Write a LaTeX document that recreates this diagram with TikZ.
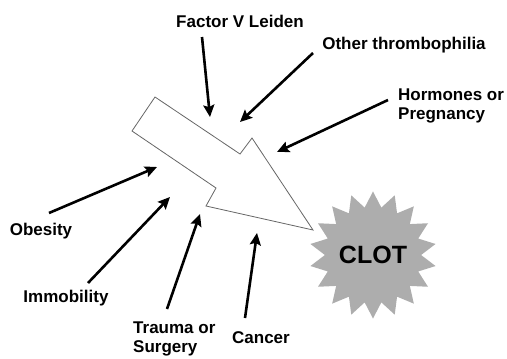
\documentclass[tikz,border=0pt]{standalone}
\usepackage{fontspec}
\setmainfont{Liberation Sans}
\usetikzlibrary{arrows.meta, shapes.geometric, positioning}

\begin{document}
\begin{tikzpicture}[
  x=1pt, y=-1pt,
  factor/.style={font=\fontsize{17}{19}\selectfont\bfseries, inner sep=0pt, align=left},
  arr/.style={-{Stealth[length=12pt, width=11pt, inset=2pt]}, line width=2.6pt},
  bigarrow/.style={draw=black!60, line width=0.8pt, fill=white, line join=miter},
  clot/.style={star, star points=18, star point ratio=1.32, minimum size=106pt,
               fill=black!32, inner sep=0pt, font=\fontsize{25}{25}\selectfont\bfseries}
]
\useasboundingbox (0,0) rectangle (507,359);

% --- big hollow arrow ---
\draw[bigarrow] (155,97) -- (240,154) -- (252,138) -- (313,230)
                -- (206,206) -- (216,188) -- (132,131) -- cycle;

% --- CLOT ---
\node[clot] (clot) at (373,255) {CLOT};

% --- risk factors ---
\node[factor] (fvl)      at (240,21)          {Factor V Leiden};
\node[factor] (thromb)   at (404,45)          {Other thrombophilia};
\node[factor, anchor=west] (hormones) at (398,106) {Hormones or\\Pregnancy};
\node[factor] (obesity)  at (41,231)          {Obesity};
\node[factor] (immob)    at (66,298)          {Immobility};
\node[factor, anchor=west] (trauma) at (133,339) {Trauma or\\Surgery};
\node[factor] (cancer)   at (261,338)         {Cancer};

% ---- arrow ends ----
\coordinate (fvl_s)      at (202,37);   \coordinate (fvl_e)      at (210,117);
\coordinate (thromb_s)   at (313,53);   \coordinate (thromb_e)   at (240,122);
\coordinate (hormones_s) at (388,100);  \coordinate (hormones_e) at (277,152);
\coordinate (obesity_s)  at (49,213);   \coordinate (obesity_e)  at (157,167);
\coordinate (immob_s)    at (88,283);   \coordinate (immob_e)    at (170,197);
\coordinate (trauma_s)   at (167,309);  \coordinate (trauma_e)   at (200,214);
\coordinate (cancer_s)   at (245,318);  \coordinate (cancer_e)   at (257,233);

% ---- Connections ----
\foreach \f in {fvl, thromb, hormones, obesity, immob, trauma, cancer}
  \draw[arr] (\f_s) -- (\f_e);

\end{tikzpicture}
\end{document}
